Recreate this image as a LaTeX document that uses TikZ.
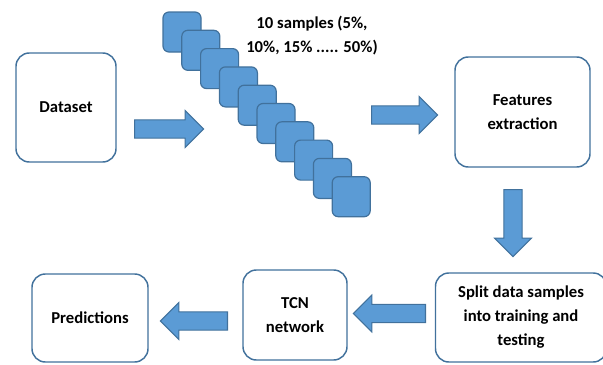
\documentclass[tikz,border=0pt]{standalone}
\usepackage{fontspec}
\setmainfont{Carlito}
\usetikzlibrary{shapes.arrows}

\definecolor{boxblue}{HTML}{5B9BD5}
\definecolor{edgeblue}{HTML}{41719C}

\tikzset{
  stage/.style={draw=edgeblue, line width=1.1pt, fill=white, rounded corners=10pt,
    align=center, font=\fontsize{12.5}{18}\selectfont\bfseries, inner sep=2pt},
  sample/.style={draw=edgeblue, line width=0.9pt, fill=boxblue, rounded corners=4.5pt,
    minimum width=28.5pt, minimum height=30pt, inner sep=0pt},
  flow/.style={single arrow, draw=edgeblue, line width=0.8pt, fill=boxblue,
    inner xsep=0pt, inner ysep=6.4pt, single arrow head extend=7pt}
}

\begin{document}
\begin{tikzpicture}[x=0.75pt, y=-0.75pt]
    \useasboundingbox (0,0) rectangle (603,364);

    % boxes
    \node[stage, minimum width=75pt, minimum height=81.75pt] (dataset) at (66,107.5) {Dataset};
    \node[stage, minimum width=101.25pt, minimum height=82.5pt] (features) at (522.5,112) {Features\\extraction};
    \node[stage, minimum width=128.25pt, minimum height=66.75pt] (split) at (521,317.5) {Split data samples\\into training and\\testing};
    \node[stage, minimum width=78pt, minimum height=67.5pt] (tcn) at (295,315) {TCN\\network};
    \node[stage, minimum width=87pt, minimum height=66pt] (predictions) at (90,318) {Predictions};

    % the samples
    \foreach \i in {1,...,10}
      \node[sample] (sq\i) at ({182+(\i-1)*18.8},{32+(\i-1)*18.3}) {};
    \node[align=center, font=\fontsize{12.5}{18}\selectfont\bfseries] (samples) at (312,36)
      {10 samples (5\%,\\10\%, 15\% ..... 50\%)};

    % arrows
    \node[flow, minimum height=51.75pt] (a1) at (164.5,129) {};
    \node[flow, minimum height=49.5pt] (a2) at (400,115) {};
    \node[flow, minimum height=50.25pt, rotate=270] (a3) at (513,218.5) {};
    \node[flow, minimum height=54pt, rotate=180] (a4) at (394,313.5) {};
    \node[flow, minimum height=50.25pt, rotate=180] (a5) at (198.5,321) {};
\end{tikzpicture}
\end{document}
